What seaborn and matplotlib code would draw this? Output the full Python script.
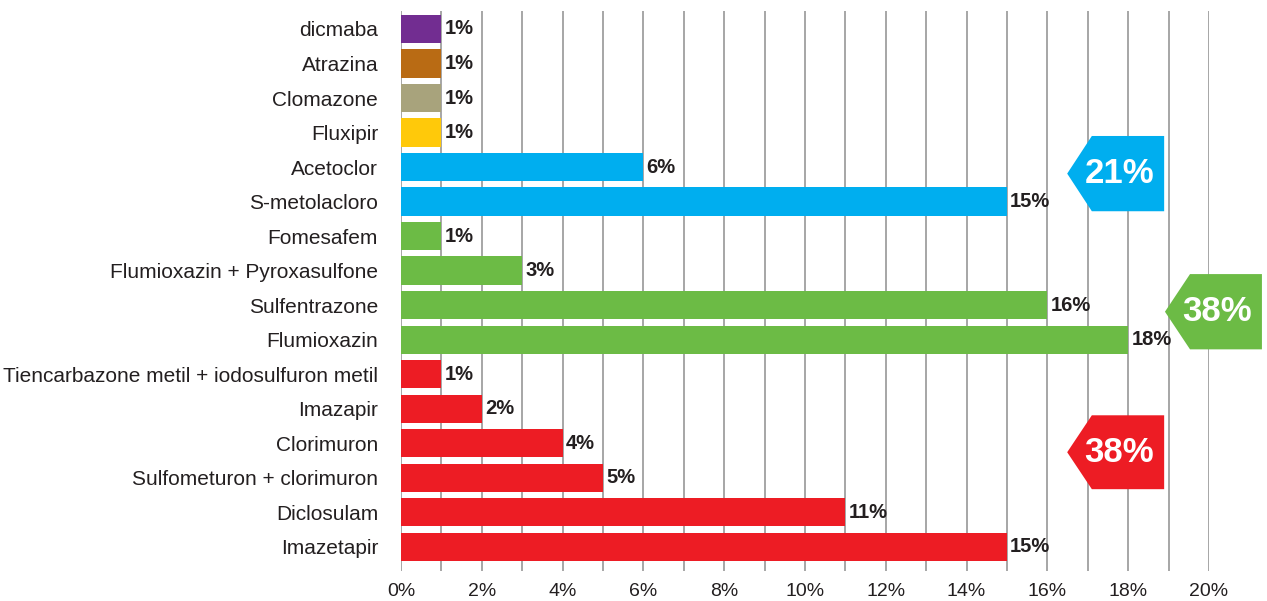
import matplotlib
matplotlib.use("Agg")
import matplotlib.pyplot as plt
from matplotlib.patches import Polygon
import seaborn as sns
import pandas as pd

categories = ["dicmaba", "Atrazina", "Clomazone", "Fluxipir", "Acetoclor", "S-metolacloro",
              "Fomesafem", "Flumioxazin + Pyroxasulfone", "Sulfentrazone", "Flumioxazin",
              "Tiencarbazone metil + iodosulfuron metil", "Imazapir", "Clorimuron",
              "Sulfometuron + clorimuron", "Diclosulam", "Imazetapir"]
values = [1, 1, 1, 1, 6, 15, 1, 3, 16, 18, 1, 2, 4, 5, 11, 15]
groups = ["dicmaba", "atrazina", "clomazone", "fluxipir", "blue", "blue",
          "green", "green", "green", "green", "red", "red", "red", "red", "red", "red"]
group_colors = {"dicmaba": "#722D91", "atrazina": "#B96B14", "clomazone": "#A8A37C",
                "fluxipir": "#FFC90A", "blue": "#00AEEF", "green": "#6CBB45", "red": "#ED1C24"}
badge_labels = ["21%", "38%", "38%"]
badge_groups = ["blue", "green", "red"]

sns.set_theme(style="white")
plt.rcParams['font.family'] = ['Liberation Sans', 'DejaVu Sans']

df = pd.DataFrame({"cat": categories, "val": values, "grp": groups})
colors = [group_colors[g] for g in groups]

fig = plt.figure(figsize=(12.67, 6.01), dpi=100)
ax = fig.add_axes([401/1267, 30/601, 808/1267, 560/601])

sns.barplot(data=df, y="cat", x="val", hue="cat", palette=colors, orient="h",
            width=0.82, legend=False, ax=ax, saturation=1, linewidth=0)

ax.set_xlim(0, 20)
ax.set_ylim(15.7, -0.52)
for s in ax.spines.values():
    s.set_visible(False)
ax.set_xticks(range(0, 21, 2))
ax.set_xticklabels([f"{t}%" for t in range(0, 21, 2)], fontsize=14, color="#231F20")
ax.grid(False)
for x in range(0, 21):
    ax.axvline(x, color="#A6A6A6", lw=1.4, zorder=0)
ax.tick_params(axis="x", which="both", length=0, pad=8.5)
ax.tick_params(axis="y", length=0, pad=16.5, labelsize=15, labelcolor="#231F20")
ax.set_xlabel("")
ax.set_ylabel("")

for i, v in enumerate(values):
    ax.text(v + 0.08, i, f"{v}%", va="center", ha="left", fontsize=14.5,
            fontweight="bold", color="#231F20")

# badges: (tip x, shoulder x, right x, top y, bottom y)
badge_geom = [(16.49, 17.10, 18.89, 3.10, 5.28),
              (18.91, 19.53, 21.31, 7.10, 9.28),
              (16.49, 17.10, 18.89, 11.19, 13.33)]
for lab, g, (xt, xs, xr, yt, yb) in zip(badge_labels, badge_groups, badge_geom):
    yc = (yt + yb) / 2
    poly = Polygon([(xt, yc), (xs, yt), (xr, yt), (xr, yb), (xs, yb)], closed=True,
                   facecolor=group_colors[g], edgecolor="none", clip_on=False, zorder=5)
    ax.add_patch(poly)
    ax.text((xs + xr) / 2 - 0.22, yc, lab, ha="center", va="center", color="white",
            fontsize=25, fontweight="bold", zorder=6, clip_on=False)

fig.savefig("out.png", dpi=100)
